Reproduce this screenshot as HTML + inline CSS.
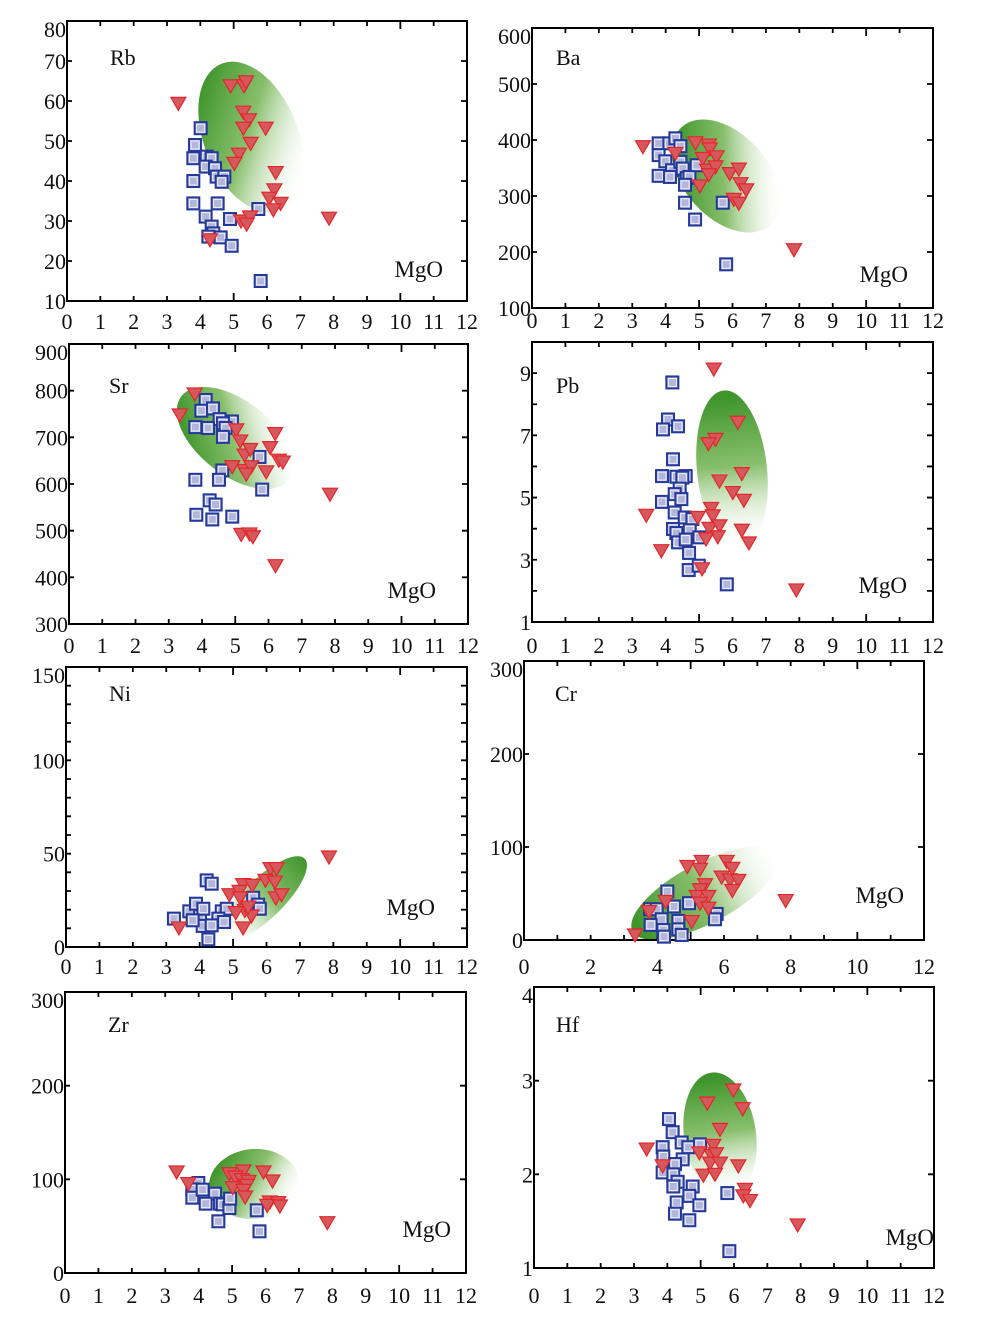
<!DOCTYPE html>
<html><head><meta charset="utf-8"><style>
html,body{margin:0;padding:0;background:#fff;}
svg{display:block;font-family:"Liberation Serif",serif;}
</style></head><body>
<svg id="fig" width="996" height="1324" viewBox="0 0 996 1324" xmlns="http://www.w3.org/2000/svg"></svg>
<script>
// ---- data (MgO on x) ----
const rbSqX=[4.01,3.84,3.79,4.19,4.34,4.16,4.44,4.49,4.72,4.64,3.79,3.79,4.52,4.16,4.89,5.74,4.34,4.39,4.24,4.61,4.94,5.81];
const rbSqY=[53.2,49,45.7,46.1,45.7,43.6,43.2,41.1,41.1,39.8,40,34.4,34.4,31.1,30.5,33,28.6,26.9,26.1,25.9,23.8,15];
const rbTrX=[3.34,4.91,5.31,5.37,5.29,5.46,5.29,5.96,5.51,5.16,5.02,6.26,6.22,6.07,6.41,6.19,7.86,5.22,5.49,5.39,4.29];
const rbTrY=[59.4,63.8,63.8,64.8,57.2,55.3,53.2,53.2,49.4,46.7,44.4,42.1,37.8,35.7,34.4,32.8,30.7,30,31,29.2,25.3];

const baSqX=[3.79,4.11,4.29,4.44,3.79,3.99,4.19,4.44,4.51,3.79,4.13,4.63,4.71,4.58,4.93,4.58,5.71,4.88,5.81];
const baSqY=[394,394,403,389,373,362,346,361,349,336,334,332,334,320,355,288,288,258,178];
const baTrX=[3.32,4.89,5.29,5.32,5.11,5.52,5.24,5.49,5.29,5.92,6.19,6.24,6.41,6.04,6.19,5.02,7.84,4.29];
const baTrY=[388,395,391,384,367,370,346,352,338,340,348,322,311,294,287,318,204,376];

const srSqX=[4.11,3.98,4.33,4.53,4.9,4.63,3.8,4.18,4.71,4.63,5.73,4.61,4.51,3.8,5.81,4.23,4.41,3.83,4.31,4.91];
const srSqY=[780,757,762,739,734,730,722,720,720,701,658,629,609,609,588,565,556,534,524,530];
const srTrX=[3.78,3.33,5.03,5.15,6.2,6.05,5.28,5.45,6.31,6.43,4.91,5.28,5.48,5.33,5.93,7.85,5.18,5.43,5.53,6.21];
const srTrY=[793,748,716,692,708,678,662,674,651,647,637,629,637,621,626,578,492,493,487,425];

const pbSqX=[4.2,4.07,3.92,4.37,4.22,3.89,4.32,4.6,4.5,4.42,4.27,3.89,4.47,4.27,4.57,4.8,4.22,4.32,4.72,5.01,4.37,4.6,4.7,4.69,4.99,5.83];
const pbSqY=[8.7,7.51,7.19,7.29,6.23,5.69,5.67,5.69,5.64,5.29,5.11,4.86,4.95,4.52,4.36,4.31,3.99,3.86,3.95,3.72,3.56,3.65,3.22,2.67,2.81,2.21];
const pbTrX=[5.44,6.16,5.49,5.28,6.28,5.61,6.01,6.34,3.42,5.36,5.41,4.96,5.31,5.61,6.28,5.56,5.21,6.49,3.87,5.09,7.91];
const pbTrY=[9.13,7.42,6.87,6.73,5.77,5.53,5.16,4.91,4.43,4.65,4.41,4.36,4.01,4.09,3.95,3.74,3.67,3.54,3.29,2.71,2.03];

const niSqX=[3.23,3.69,3.89,4.21,4.36,4.01,4.09,4.26,4.66,4.81,4.56,4.73,5.6,5.75,5.8,4.36,4.11,3.79];
const niSqY=[15.2,19.1,23.2,35.7,33.9,16.6,11.3,4.1,19.1,20.5,15.2,13.4,26.4,22.7,20.5,11.6,20.5,14.3];
const niTrX=[7.87,6.12,6.3,5.97,6.25,5.3,5.58,4.89,5.19,5.21,6.28,6.45,5.35,5.55,5.08,5.3,3.38,5.45];
const niTrY=[48.2,42,42,35.7,34.8,33.4,33,28,29.8,26.3,26.3,28,19.6,16.6,18.4,10.2,10.2,21.4];

const crSqX=[4.3,4.95,3.78,3.98,4.5,4.13,4.63,5.78,5.73,3.8,4.18,4.63,4.2,4.73];
const crSqY=[52.2,39.6,33.1,33.1,36,22.3,20.5,28,22.3,16.2,10.8,11.5,3.6,5.4];
const crTrX=[3.33,3.75,4.25,4.9,5.33,5.28,6.08,6.25,5.93,6.18,6.43,6.25,5.43,5.28,5.18,5.53,5.28,5.53,5.03,7.85];
const crTrY=[5.4,30.6,41.4,79,84.5,76,84.5,77,67.6,64.7,64,53.2,59.4,54,46.8,46.8,39.6,34.2,19.8,42.4];

const zrSqX=[3.99,3.81,3.81,4.12,4.49,4.21,4.64,4.72,4.92,4.94,5.74,4.59,5.82];
const zrSqY=[96.1,89.3,80.4,89,84.7,74,74,73.3,69.4,79.4,66.9,55.2,44.5];
const zrTrX=[3.34,4.92,5.34,5.94,6.21,5.09,5.29,5.49,5.44,5.02,5.34,5.39,6.13,6.38,6.05,6.43,7.85,3.69];
const zrTrY=[107.8,106,108.9,107.8,98.2,102.5,99.6,97.9,93.6,91.1,88.3,81.1,75.8,75.1,72.2,71.5,53.7,95.4];

const hfSqX=[4.05,4.16,4.43,3.86,4.63,4.98,3.88,4.46,4.23,3.86,4.18,4.31,4.18,4.76,4.66,4.28,4.96,4.23,4.66,5.8,5.86];
const hfSqY=[2.59,2.45,2.34,2.29,2.29,2.32,2.19,2.16,2.11,2.02,2,1.92,1.87,1.87,1.77,1.7,1.67,1.58,1.51,1.8,1.18];
const hfTrX=[5.98,5.2,6.26,5.58,3.38,4.96,5.38,5.33,5.46,5.28,5.58,6.13,5.08,5.43,6.33,6.28,6.48,3.86,7.91];
const hfTrY=[2.9,2.76,2.7,2.48,2.27,2.23,2.31,2.2,2.22,2.12,2.12,2.09,1.99,2,1.84,1.77,1.72,2.09,1.46];

// ---- panel layout ----
const panels=[
 {key:'rb',name:'Rb',L:67,R:467,T:21,B:301,ymin:10,ymax:80,yticks:[10,20,30,40,50,60,70,80],ylabs:[10,20,30,40,50,60,70,80],xlabs:[0,1,2,3,4,5,6,7,8,9,10,11,12],xlo:20,lab:[110,58],mgo:[443,277],
  ell:{cx:251,cy:137,rx:47,ry:79,rot:-22,gx:[0.2,0.1,0.8,0.95]},sq:[rbSqX,rbSqY],tr:[rbTrX,rbTrY]},
 {key:'ba',name:'Ba',L:532,R:933,T:28,B:308,ymin:100,ymax:600,yticks:[100,200,300,400,500,600],ylabs:[100,200,300,400,500,600],xlabs:[0,1,2,3,4,5,6,7,8,9,10,11,12],xlo:12,lab:[556,58],mgo:[908,282],
  ell:{cx:726,cy:176,rx:42,ry:66,rot:-42,gx:[0.2,0.15,0.8,0.95]},sq:[baSqX,baSqY],tr:[baTrX,baTrY]},
 {key:'sr',name:'Sr',L:69,R:468,T:344,B:624,ymin:300,ymax:900,yticks:[300,400,500,600,700,800,900],ylabs:[300,400,500,600,700,800,900],xlabs:[0,1,2,3,4,5,6,7,8,9,10,11,12],xlo:21,lab:[109,386],mgo:[436,598],
  ell:{cx:235,cy:438,rx:37,ry:68,rot:-52,gx:[0.2,0.1,0.8,0.95]},sq:[srSqX,srSqY],tr:[srTrX,srTrY]},
 {key:'pb',name:'Pb',L:532,R:933,T:342,B:622,ymin:1,ymax:10,yticks:[1,2,3,4,5,6,7,8,9],ylabs:[1,3,5,7,9],xlabs:[0,1,2,3,4,5,6,7,8,9,10,11,12],xlo:23,lab:[556,386],mgo:[907,593],
  ell:{cx:732,cy:470,rx:35,ry:80,rot:-6,gx:[0.5,0.05,0.5,1]},sq:[pbSqX,pbSqY],tr:[pbTrX,pbTrY]},
 {key:'ni',name:'Ni',L:66,R:467,T:667,B:947,ymin:0,ymax:150,yticks:[0,10,20,30,40,50,60,70,80,90,100,110,120,130,140,150],ylabs:[0,50,100,150],xlabs:[0,1,2,3,4,5,6,7,8,9,10,11,12],xlo:19,lab:[109,694],mgo:[435,915],
  ell:{cx:263,cy:899,rx:20,ry:58,rot:46,gx:[0.5,0,0.5,1]},sq:[niSqX,niSqY],tr:[niTrX,niTrY]},
 {key:'cr',name:'Cr',L:524,R:924,T:661,B:940,ymin:0,ymax:300,yticks:[0,100,200,300],ylabs:[0,100,200,300],xlabs:[0,2,4,6,8,10,12],xlo:26,lab:[555,694],mgo:[904,903],
  ell:{cx:705,cy:893,rx:82,ry:30,rot:-28,gx:[0.05,0.5,1,0.5]},sq:[crSqX,crSqY],tr:[crTrX,crTrY]},
 {key:'zr',name:'Zr',L:65,R:466,T:992,B:1273,ymin:0,ymax:300,yticks:[0,100,200,300],ylabs:[0,100,200,300],xlabs:[0,1,2,3,4,5,6,7,8,9,10,11,12],xlo:22,lab:[108,1025],mgo:[451,1237],
  ell:{cx:254,cy:1184,rx:45,ry:35,rot:-5,gx:[0.1,0.2,1,0.7]},sq:[zrSqX,zrSqY],tr:[zrTrX,zrTrY]},
 {key:'hf',name:'Hf',L:534,R:934,T:987,B:1268,ymin:1,ymax:4,yticks:[1,2,3,4],ylabs:[1,2,3,4],xlabs:[0,1,2,3,4,5,6,7,8,9,10,11,12],xlo:27,lab:[556,1025],mgo:[934,1245],
  ell:{cx:720,cy:1135,rx:36,ry:63,rot:-8,gx:[0.5,0.05,0.5,1]},sq:[hfSqX,hfSqY],tr:[hfTrX,hfTrY]}
];

const NS='http://www.w3.org/2000/svg';
const svg=document.getElementById('fig');
function mk(tag,attrs,parent){const e=document.createElementNS(NS,tag);for(const k in attrs)e.setAttribute(k,attrs[k]);(parent||svg).appendChild(e);return e;}
const defs=mk('defs',{});

panels.forEach(p=>{
  const xs=v=>p.L+(v/12)*(p.R-p.L);
  const ys=v=>p.B-(v-p.ymin)/(p.ymax-p.ymin)*(p.B-p.T);
  const g=mk('g',{});
  
  

  const gid='grad-'+p.key;
  const lg=mk('linearGradient',{id:gid,x1:p.ell.gx[0],y1:p.ell.gx[1],x2:p.ell.gx[2],y2:p.ell.gx[3]},defs);
  mk('stop',{offset:'0','stop-color':'#3f952c','stop-opacity':'1'},lg);
  mk('stop',{offset:'0.45','stop-color':'#7bb85c','stop-opacity':'0.9'},lg);
  mk('stop',{offset:'1','stop-color':'#ffffff','stop-opacity':'0'},lg);
  const el=mk('ellipse',{cx:0,cy:0,rx:p.ell.rx,ry:p.ell.ry,fill:'url(#'+gid+')',transform:`translate(${p.ell.cx},${p.ell.cy}) rotate(${p.ell.rot})`},g);
  
  

  const fr=mk('rect',{x:p.L,y:p.T,width:p.R-p.L,height:p.B-p.T,fill:'none',stroke:'#000','stroke-width':2},g);
  
  

  let tk='';
  for(let i=1;i<12;i++){const x=xs(i);const len=(i%5===0)?8:5;tk+=`M${x},${p.B}v${-len}M${x},${p.T}v${len}`;}
  p.yticks.forEach(v=>{const y=ys(v);tk+=`M${p.R},${y}h-6M${p.L},${y}h5`;});
  const tp=mk('path',{d:tk,stroke:'#000','stroke-width':1.8,fill:'none'},g);
  
  

  p.xlabs.forEach(v=>{
    const t=mk('text',{x:xs(v),y:p.B+p.xlo+8,'text-anchor':'middle','font-size':22,fill:'#111'},g);
    t.textContent=v;
    
    
  });
  p.ylabs.forEach(v=>{
    const y=Math.max(ys(v),p.T+8);
    const t=mk('text',{x:p.L-1,y:y+8,'text-anchor':'end','font-size':22,fill:'#111'},g);
    t.textContent=v;
    
    
  });
  const et=mk('text',{x:p.lab[0],y:p.lab[1]+7,'font-size':22,fill:'#111'},g);
  et.textContent=p.name;
  
  
  const mt=mk('text',{x:p.mgo[0],y:p.mgo[1],'text-anchor':'end','font-size':23,fill:'#111'},g);
  mt.textContent='MgO';
  
  

  p.sq[0].forEach((xv,i)=>{
    const x=xs(xv),y=ys(p.sq[1][i]);
    const s=mk('g',{},g);
    
    
    mk('rect',{x:x-6,y:y-6,width:12,height:12,fill:'#b2b6da',stroke:'#24399a','stroke-width':2},s);
    mk('rect',{x:x-4,y:y-4,width:8,height:8,fill:'none',stroke:'#eef0fa','stroke-width':1},s);
  });
  p.tr[0].forEach((xv,i)=>{
    const x=xs(xv),y=ys(p.tr[1][i]);
    const t=mk('path',{d:`M${x-7.5},${y-6}L${x+7.5},${y-6}L${x},${y+7}Z`,fill:'#d6585c',stroke:'#e3262b','stroke-width':1.2},g);
    
    
  });
});
</script>
</body></html>
